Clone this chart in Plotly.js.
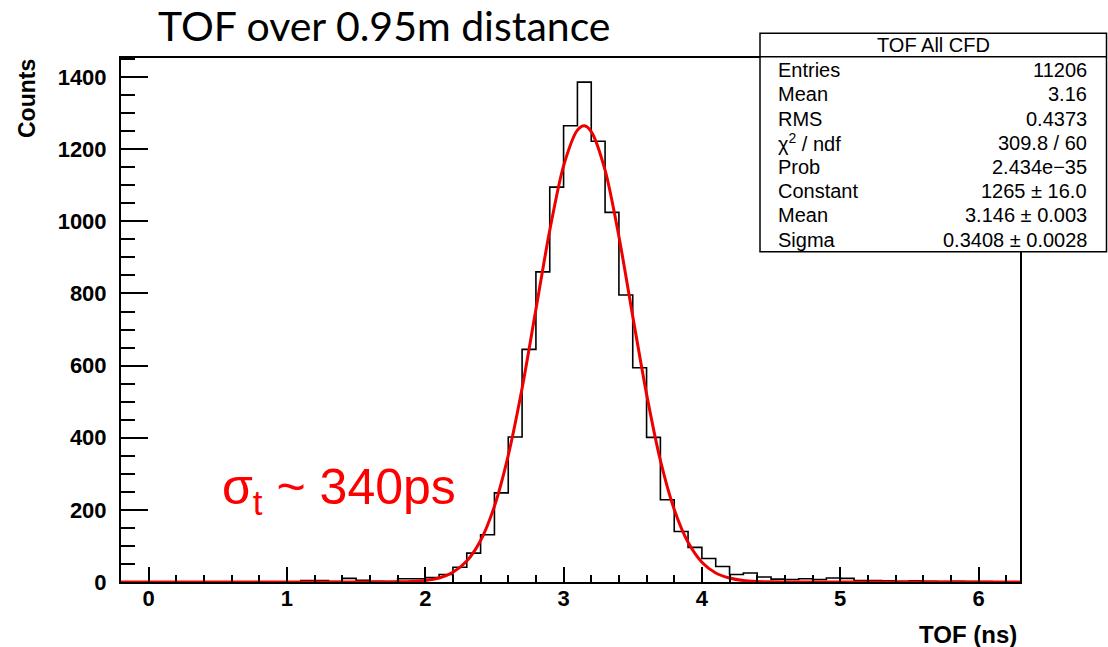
<!DOCTYPE html>
<html>
<head>
<meta charset="utf-8">
<script src="https://cdn.plot.ly/plotly-3.0.1.min.js"></script>
<style>html,body{margin:0;padding:0;background:#fff;}#chart{width:1108px;height:647px;}</style>
</head>
<body>
<div id="chart"></div>
<script>
// Histogram: 65 bins of 0.1 ns from -0.2 to 6.3 ns
const binStart = -0.2;
const binWidth = 0.1;
const counts = [
  0, 0, 0, 0, 0, 0, 0, 0, 0, 0,        // -0.2 .. 0.8
  0, 0, 0, 4, 4, 1, 10, 5, 2, 1,       // 0.8 .. 1.8
  9, 9, 12, 21, 41, 80, 131, 247, 402, 645, // 1.8 .. 2.8
  860, 1095, 1265, 1386, 1222, 1025, 796, 594, 401, 228, // 2.8 .. 3.8
  140, 96, 65, 43, 21, 25, 14, 8, 7, 9, // 3.8 .. 4.8
  7, 11, 10, 4, 4, 3, 2, 3, 2, 1,      // 4.8 .. 5.8
  2, 1, 1, 0, 0                        // 5.8 .. 6.3
];

// Gaussian fit curve
const fitX = [-0.2, 1.7, 1.8, 1.9, 2.0, 2.1, 2.2, 2.3, 2.4, 2.5, 2.6, 2.7, 2.8, 2.9, 3.0, 3.1, 3.15, 3.2, 3.3, 3.4, 3.5, 3.6, 3.7, 3.8, 3.9, 4.0, 4.1, 4.2, 4.3, 4.4, 4.5, 4.6, 6.3];
const fitY = [0, 0, 0.5, 1.6, 4.4, 11, 27, 58, 115, 210, 351, 537, 756, 975, 1154, 1253, 1265, 1249, 1142, 958, 737, 521, 337, 201, 110, 55, 25, 11, 4, 1.4, 0.4, 0, 0];

// Stats box contents
const statsTitle = "TOF All CFD";
const statsLabels = ["Entries", "Mean", "RMS", "χ<sup>2</sup> / ndf", "Prob", "Constant", "Mean", "Sigma"];
const statsValues = ["11206", "3.16", "0.4373", "309.8 / 60", "2.434e\u221235", "1265 ± 16.0", "3.146 ± 0.003", "0.3408 ± 0.0028"];

const chartTitle = "TOF over 0.95m distance";
const xTitle = "TOF (ns)";
const yTitle = "Counts";
const sigmaText = "σ<sub>t</sub> ~ 340ps";

// step outline
const edges = [];
const stepY = [];
for (let i = 0; i < counts.length; i++) { edges.push(binStart + i * binWidth); stepY.push(counts[i]); }
edges.push(binStart + counts.length * binWidth); stepY.push(counts[counts.length - 1]);

// pixel helpers (plot area: x 121..1020, y 58..582)
const L = 121, R = 1020, T = 58, B = 582;
const px = v => (v - L) / (R - L);
const py = v => (B - v) / (B - T);

const annotations = [];
annotations.push({xref:'paper', yref:'paper', x:px(156), y:py(26), xanchor:'left', yanchor:'middle', text:chartTitle, showarrow:false, font:{family:'Lato', size:41, color:'#000'}});
annotations.push({xref:'paper', yref:'paper', x:px(1019), y:py(634), xanchor:'right', yanchor:'middle', text:'<b>'+xTitle+'</b>', showarrow:false, font:{family:'Liberation Sans, Arial', size:24, color:'#000'}});
annotations.push({xref:'paper', yref:'paper', x:px(27), y:py(99), xanchor:'center', yanchor:'middle', textangle:-90, text:'<b>'+yTitle+'</b>', showarrow:false, font:{family:'Liberation Sans, Arial', size:23, color:'#000'}});
annotations.push({xref:'paper', yref:'paper', x:px(220), y:py(490), xanchor:'left', yanchor:'middle', text:sigmaText, showarrow:false, font:{family:'Liberation Sans, Arial', size:50, color:'#ff0000'}});
annotations.push({xref:'paper', yref:'paper', x:px(933.5), y:py(45.5), xanchor:'center', yanchor:'middle', text:statsTitle, showarrow:false, font:{family:'Liberation Sans, Arial', size:20, color:'#000'}});
const rowY = [70, 94.3, 118.5, 142.7, 167, 191.2, 215.4, 239.6];
for (let i = 0; i < statsLabels.length; i++) {
  annotations.push({xref:'paper', yref:'paper', x:px(776), y:py(rowY[i]), xanchor:'left', yanchor:'middle', text:statsLabels[i], showarrow:false, font:{family:'Liberation Sans, Arial', size:20, color:'#000'}});
  annotations.push({xref:'paper', yref:'paper', x:px(1089), y:py(rowY[i]), xanchor:'right', yanchor:'middle', text:statsValues[i], showarrow:false, font:{family:'Liberation Sans, Arial', size:20, color:'#000'}});
}

const shapes = [
  {type:'rect', xref:'paper', yref:'paper', x0:px(760), x1:px(1106.5), y0:py(251.7), y1:py(33.3), fillcolor:'#fff', line:{color:'#000', width:1.5}, layer:'above'},
  {type:'line', xref:'paper', yref:'paper', x0:px(760), x1:px(1106.5), y0:py(56.7), y1:py(56.7), line:{color:'#000', width:1.5}, layer:'above'}
];

const traces = [
  {x: edges, y: stepY, type:'scatter', mode:'lines', line:{shape:'hv', color:'#000', width:1.6}, hoverinfo:'skip'},
  {x: fitX, y: fitY, type:'scatter', mode:'lines', line:{shape:'spline', smoothing:0.8, color:'#ee0000', width:3}, hoverinfo:'skip'}
];

const axisFont = {family:'Liberation Sans, Arial', size:22, color:'#000', weight:'bold'};
const layout = {
  width:1108, height:647,
  margin:{l:L, r:1108-R, t:T, b:647-B, pad:0},
  paper_bgcolor:'#fff', plot_bgcolor:'#fff',
  showlegend:false,
  xaxis:{range:[-0.2, 6.3], showgrid:false, zeroline:false, showline:true, mirror:true, linecolor:'#000', linewidth:2,
    ticks:'inside', ticklen:15, tickwidth:2, tickcolor:'#000', dtick:1, tick0:0,
    minor:{dtick:0.2, tick0:0, ticks:'inside', ticklen:7.5, tickwidth:2, tickcolor:'#000'},
    tickfont:axisFont, ticklabelstandoff:-4},
  yaxis:{range:[0, 1453], showgrid:false, zeroline:false, showline:true, mirror:true, linecolor:'#000', linewidth:2,
    ticks:'inside', ticklen:27, tickwidth:2, tickcolor:'#000', dtick:200, tick0:0,
    minor:{dtick:50, tick0:0, ticks:'inside', ticklen:13.5, tickwidth:2, tickcolor:'#000'},
    tickfont:axisFont, ticklabelstandoff:8},
  annotations: annotations,
  shapes: shapes
};
Plotly.newPlot('chart', traces, layout, {staticPlot:true, displayModeBar:false});
</script>
</body>
</html>
